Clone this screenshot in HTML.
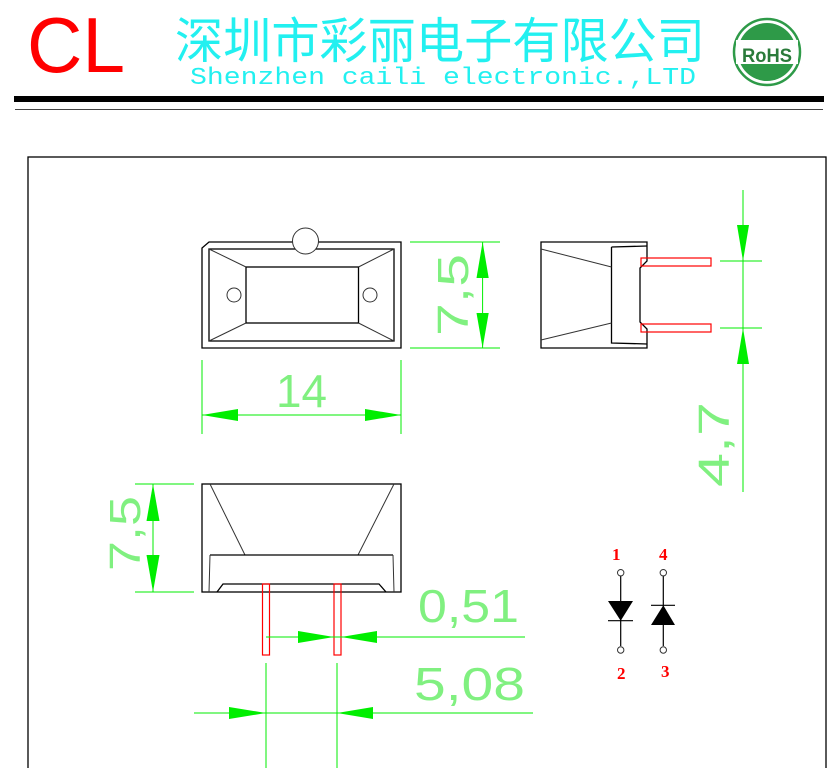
<!DOCTYPE html>
<html><head><meta charset="utf-8"><style>
html,body{margin:0;padding:0;background:#fff;width:839px;height:768px;overflow:hidden}
svg{display:block}
.g{stroke:#00ee00;stroke-width:1;fill:none}
.ga{fill:#00ee00;stroke:none}
.k{stroke:#000;stroke-width:1.3;fill:none}
.kt{stroke:#333;stroke-width:1;fill:none}
.r{stroke:#ff0000;stroke-width:1.2;fill:none}
.dt{fill:#80f080;font-family:"Liberation Sans",sans-serif;font-weight:normal}
.pn{fill:#ff0000;font-family:"Liberation Serif",serif;font-weight:bold;font-size:17px}
</style></head><body>
<svg width="839" height="768" viewBox="0 0 839 768" xmlns="http://www.w3.org/2000/svg">
<!-- header -->
<text x="27" y="72" fill="#ff0000" font-family="Liberation Sans,sans-serif" font-size="78" textLength="98" lengthAdjust="spacingAndGlyphs">CL</text>
<text x="175" y="58" fill="#22f0f0" font-family="Liberation Sans,'Noto Sans CJK SC',sans-serif" font-size="49" textLength="530" lengthAdjust="spacingAndGlyphs">深圳市彩丽电子有限公司</text>
<text x="190" y="84" fill="#22f0f0" font-family="Liberation Mono,monospace" font-size="24" textLength="506" lengthAdjust="spacingAndGlyphs">Shenzhen caili electronic.,LTD</text>
<circle cx="767" cy="52" r="33" fill="#fff" stroke="#2e9a48" stroke-width="2.5"/>
<circle cx="767" cy="52" r="29" fill="#2e9a48"/>
<rect x="736" y="40" width="62" height="24" fill="#fff"/>
<text x="767" y="62" text-anchor="middle" fill="#2a7a3a" font-family="Liberation Sans,sans-serif" font-weight="bold" font-size="19" textLength="50" lengthAdjust="spacingAndGlyphs">RoHS</text>
<rect x="14" y="96" width="810" height="6" fill="#000"/>
<line x1="15" y1="109.5" x2="823" y2="109.5" stroke="#444" stroke-width="1"/>
<!-- frame -->
<rect x="28" y="157" width="798" height="640" fill="none" stroke="#000" stroke-width="1.3"/>

<!-- top view -->
<path class="k" d="M209,242 L401,242 L401,348 L202,348 L202,248 Z"/>
<rect class="k" x="209" y="249" width="185" height="92"/>
<rect class="k" x="246" y="267" width="112.5" height="56"/>
<path class="kt" d="M209,249 L246,267 M394,249 L358.5,267 M209,341 L246,323 M394,341 L358.5,323"/>
<circle class="kt" cx="234" cy="295" r="7"/>
<circle class="kt" cx="370" cy="295" r="7"/>
<circle cx="305.5" cy="241" r="13" fill="#fff" stroke="#333" stroke-width="1"/>
<!-- 7,5 dim top -->
<path class="g" d="M410,242 H500 M410,348 H500 M482.6,242 V348"/>
<polygon class="ga" points="482.6,242 476.5,278 488.7,278"/>
<polygon class="ga" points="482.6,348 476.5,313 488.7,313"/>
<text class="dt" font-size="44" transform="translate(468,336) rotate(-90)" textLength="82" lengthAdjust="spacingAndGlyphs">7,5</text>
<!-- 14 dim -->
<path class="g" d="M202,360 V434 M401,360 V434 M202,415 H401"/>
<polygon class="ga" points="202,415 238,409 238,421"/>
<polygon class="ga" points="401,415 365,409 365,421"/>
<text class="dt" x="276" y="407" font-size="46" textLength="51" lengthAdjust="spacingAndGlyphs">14</text>

<!-- side view -->
<path class="k" d="M541,242 H647 V261 L640,268 V322 L647,329 V348 H541 Z"/>
<path class="k" d="M611.5,247 L647,246 M611.5,247 V343 L647,344"/>
<path class="kt" d="M541,249 L611.5,267 M541,340 L611.5,323"/>
<rect class="r" x="641" y="258" width="70" height="8"/>
<rect class="r" x="641" y="324" width="70" height="8"/>
<!-- 4,7 dim -->
<path class="g" d="M720,261 H762 M720,328 H762 M743,190 V492"/>
<polygon class="ga" points="743,261 737,225 749,225"/>
<polygon class="ga" points="743,328 737,364 749,364"/>
<text class="dt" font-size="44" transform="translate(729,487) rotate(-90)" textLength="85" lengthAdjust="spacingAndGlyphs">4,7</text>

<!-- bottom view -->
<rect class="k" x="202" y="484" width="199" height="108"/>
<path class="kt" d="M210,484 L245,555 M394,484 L358,555"/>
<path class="k" d="M210,555 H393"/>
<path class="kt" d="M210,555 L209,592 M393,555 L394,592"/>
<path class="k" d="M217,592 L223,584 H379 L386,592"/>
<rect class="r" x="262.5" y="584" width="7" height="71"/>
<rect class="r" x="334" y="584" width="7" height="71"/>
<!-- 7,5 left -->
<path class="g" d="M135,484 H194 M135,592 H194 M153,484 V592"/>
<polygon class="ga" points="153,484 146.5,521 159.5,521"/>
<polygon class="ga" points="153,592 146.5,555 159.5,555"/>
<text class="dt" font-size="44" transform="translate(140,571) rotate(-90)" textLength="75" lengthAdjust="spacingAndGlyphs">7,5</text>
<!-- 0,51 -->
<path class="g" d="M266,637 H525"/>
<polygon class="ga" points="334,637 298,631 298,643"/>
<polygon class="ga" points="341,637 377,631 377,643"/>
<text class="dt" x="418" y="622" font-size="46" textLength="101" lengthAdjust="spacingAndGlyphs">0,51</text>
<!-- 5,08 -->
<path class="g" d="M266,663 V768 M337,663 V768 M194,713 H533"/>
<polygon class="ga" points="266,713 229,707 229,719"/>
<polygon class="ga" points="337,713 373,707 373,719"/>
<text class="dt" x="414" y="700" font-size="46" textLength="111" lengthAdjust="spacingAndGlyphs">5,08</text>

<!-- diodes -->
<text class="pn" x="612" y="560">1</text>
<text class="pn" x="659" y="560">4</text>
<text class="pn" x="617" y="679">2</text>
<text class="pn" x="661" y="677">3</text>
<path stroke="#000" stroke-width="1.2" d="M620.7,576 V646 M663.3,576 V646 M608,620.7 H633 M651,605.3 H675"/>
<polygon fill="#000" points="608,601 633,601 620.7,620.7"/>
<polygon fill="#000" points="651,625 675,625 663.3,605.3"/>
<circle cx="620.7" cy="572.7" r="3.2" fill="#fff" stroke="#333"/>
<circle cx="620.7" cy="650" r="3.2" fill="#fff" stroke="#333"/>
<circle cx="663.3" cy="572.7" r="3.2" fill="#fff" stroke="#333"/>
<circle cx="663.3" cy="650" r="3.2" fill="#fff" stroke="#333"/>
</svg>
</body></html>
